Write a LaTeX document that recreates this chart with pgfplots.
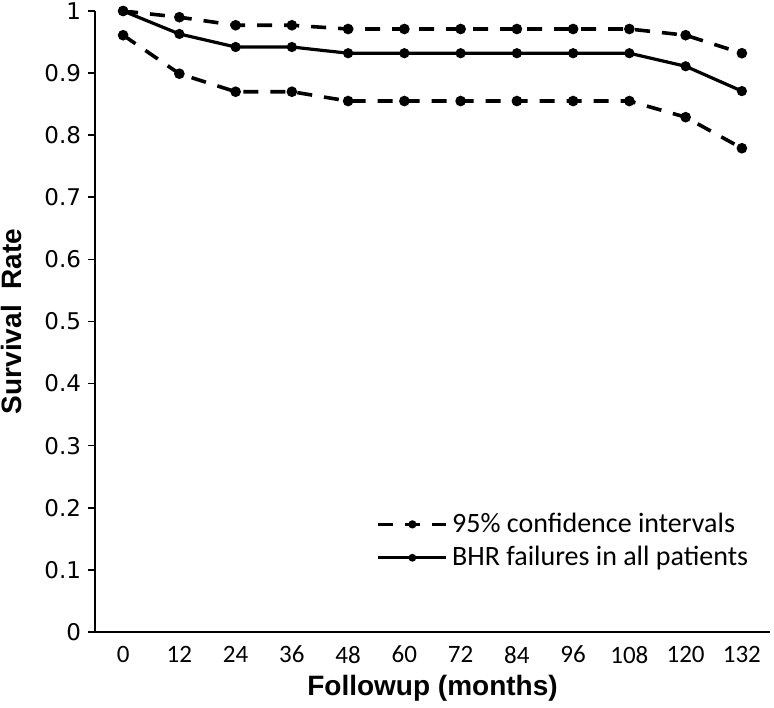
\documentclass[border=0pt]{standalone}
\usepackage{fontspec}
\setmainfont{Carlito}
\newfontfamily\labelfont{Liberation Sans}
\newfontfamily\yfont{DejaVu Sans}
\usepackage{pgfplots}
\usepackage{pgfplotstable}
\pgfplotsset{compat=1.18}

% survival curve with 95% CI, categories at 0..11 (months 0..132)
\pgfplotstableread{
x upper surv lower
0  1.000 1.000 0.961
1  0.990 0.963 0.899
2  0.977 0.942 0.870
3  0.977 0.942 0.870
4  0.971 0.932 0.855
5  0.971 0.932 0.855
6  0.971 0.932 0.855
7  0.971 0.932 0.855
8  0.971 0.932 0.855
9  0.971 0.932 0.855
10 0.961 0.911 0.829
11 0.932 0.871 0.779
}\survdata

\begin{document}
\begin{tikzpicture}
\begin{axis}[
  scale only axis,
  width=337.5bp, height=310.5bp,
  xmin=-0.5, xmax=11.5,
  ymin=0, ymax=1,
  axis x line=bottom, axis y line=left,
  axis line style={-, line width=1.1bp},
  xtick={0,...,11},
  xticklabels={0,12,24,36,48,60,72,84,96,108,120,132},
  major x tick style={draw=none},
  ytick={0,0.1,...,1.0},
  tick align=outside,
  major tick length=3.5bp,
  tick style={line width=0.8bp, black},
  /pgf/number format/assume math mode=true,
  yticklabel style={/pgf/number format/fixed, /pgf/number format/precision=1,
    font=\yfont\fontsize{11.5bp}{13bp}\selectfont},
  xticklabel style={font=\fontsize{12.5bp}{14bp}\selectfont},
  xlabel={Followup (months)},
  ylabel={Survival~ Rate},
  label style={font=\labelfont\bfseries\fontsize{14bp}{16bp}\selectfont},
  xlabel style={at={(axis description cs:0.5,-0.09)}, anchor=center},
  ylabel style={at={(axis description cs:-0.123,0.5)}, anchor=center},
  legend style={draw=none, fill=none, at={(0.983,0.088)}, anchor=south east,
    font=\fontsize{14bp}{16bp}\selectfont, row sep=1.5bp, legend cell align=left},
  legend image code/.code={\draw[mark repeat=2, mark phase=2, mark size=1.1bp, #1]
    plot coordinates {(0bp,0bp) (17bp,0bp) (34bp,0bp)};},
  every axis plot/.append style={black, mark=*, mark size=1.7bp},
]
\addplot[line width=1.8bp, dash pattern=on 7.5bp off 6bp, mark options={solid}]
  table[x=x, y=upper] {\survdata};
\addlegendentry{95\% confidence intervals}
\addplot[forget plot, line width=1.8bp, dash pattern=on 7.5bp off 6bp, mark options={solid}]
  table[x=x, y=lower] {\survdata};
\addplot[line width=1.6bp] table[x=x, y=surv] {\survdata};
\addlegendentry{BHR failures in all patients}
\end{axis}
\pgfresetboundingbox
\path[use as bounding box] ([xshift=-47.5bp, yshift=-38bp]current axis.south west)
  rectangle ([xshift=2bp, yshift=5.5bp]current axis.north east);
\end{tikzpicture}
\end{document}
